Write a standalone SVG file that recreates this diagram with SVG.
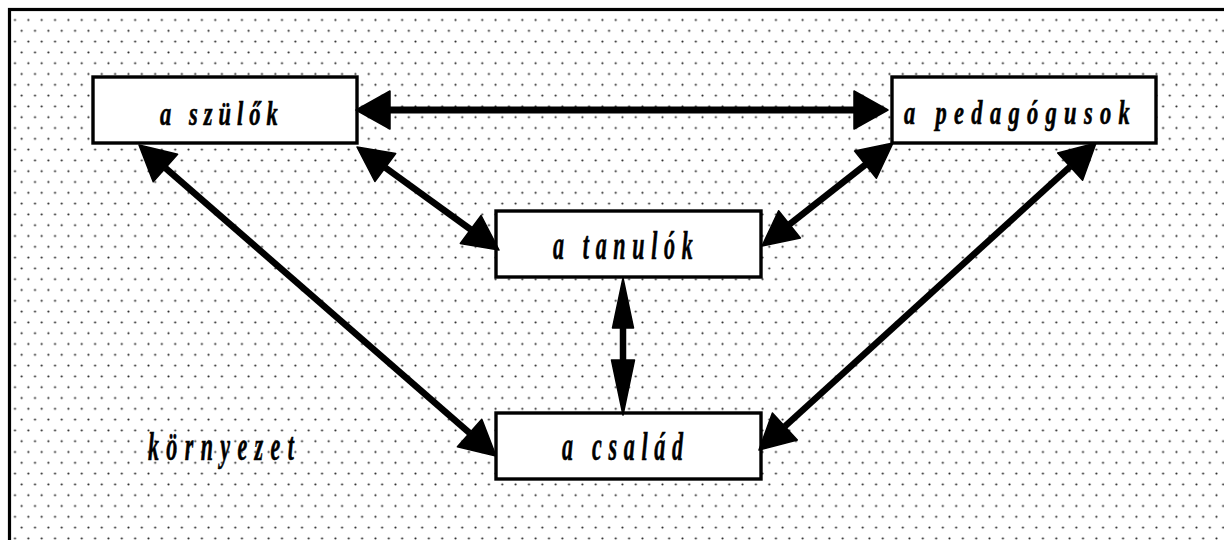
<svg xmlns="http://www.w3.org/2000/svg" width="1224" height="540" viewBox="0 0 1224 540">
  <defs>
    <pattern id="dots" patternUnits="userSpaceOnUse" x="11.66" y="14.6" width="13.35" height="21.6">
      <circle cx="3.34" cy="5.4" r="1.05" fill="#222222"/>
      <circle cx="10.01" cy="16.2" r="1.05" fill="#222222"/>
    </pattern>
    <style>
      .box { fill: #ffffff; stroke: #000000; stroke-width: 3.4; }
      .lbl { font-family: "Liberation Serif", "Times New Roman", serif; font-weight: bold; font-style: italic; fill: #000000; stroke: #000000; stroke-width: 0.6; }
      .big { font-size: 40px; }
      .small { font-size: 33px; }
      .line { stroke: #000000; stroke-width: 6.5; fill: none; }
      .head { fill: #000000; stroke: #000000; stroke-width: 1.5; stroke-linejoin: round; }
    </style>
  </defs>
  <rect x="0" y="0" width="1224" height="540" fill="#ffffff"/>
  <rect id="frame" x="9.5" y="9.5" width="1230" height="540" fill="url(#dots)" stroke="#000000" stroke-width="3.2"/>

  <g id="node-szulok">
    <rect class="box" x="93" y="77" width="264" height="66"/>
    <text class="lbl small" x="0" y="0" transform="translate(160,125) scale(0.68,1)" textLength="173" lengthAdjust="spacing">a szülők</text>
  </g>
  <g id="node-pedagogusok">
    <rect class="box" x="892" y="77" width="264" height="66"/>
    <text class="lbl small" x="0" y="0" transform="translate(904,123.5) scale(0.68,1)" textLength="332" lengthAdjust="spacing">a pedagógusok</text>
  </g>
  <g id="node-tanulok">
    <rect class="box" x="496" y="211" width="265" height="66"/>
    <text class="lbl big" x="0" y="0" transform="translate(553,259) scale(0.55,1)" textLength="254" lengthAdjust="spacing">a tanulók</text>
  </g>
  <g id="node-csalad">
    <rect class="box" x="496" y="413" width="265" height="66"/>
    <text class="lbl big" x="0" y="0" transform="translate(562,460) scale(0.55,1)" textLength="220" lengthAdjust="spacing">a család</text>
  </g>
  <g id="label-kornyezet">
    <text class="lbl big" x="0" y="0" transform="translate(148,460) scale(0.55,1)" textLength="265" lengthAdjust="spacing">környezet</text>
  </g>

  <g id="connectors">
    <!-- szülők <-> pedagógusok -->
    <line class="line" x1="385" y1="110" x2="858" y2="110" style="stroke-width:7"/>
    <polygon class="head" points="356,110 390,91 390,129"/>
    <polygon class="head" points="888,110 854,91 854,129"/>
    <!-- szülők <-> tanulók -->
    <line class="line" x1="385.3" y1="167.6" x2="470.7" y2="229.5"/>
    <polygon class="head" points="357,147 374.9,181.5 395.7,153.6"/>
    <polygon class="head" points="499,250 460.3,243.4 481.1,215.5"/>
    <!-- pedagógusok <-> tanulók -->
    <line class="line" x1="865.5" y1="164.6" x2="789.5" y2="224.4"/>
    <polygon class="head" points="893,143 854.6,151 876.4,178.2"/>
    <polygon class="head" points="762,246 778.6,210.8 800.4,238"/>
    <!-- tanulók <-> család -->
    <line class="line" x1="623" y1="320" x2="623" y2="368"/>
    <polygon class="head" points="623,278 612.5,328 633.5,328"/>
    <polygon class="head" points="623,415 611.5,360 634.5,360"/>
    <!-- szülők <-> család -->
    <line class="line" x1="165.4" y1="168" x2="469.6" y2="433"/>
    <polygon class="head" points="139,145 153.2,181.8 177.6,154.2"/>
    <polygon class="head" points="496,456 457.4,446.8 481.8,419.2"/>
    <!-- pedagógusok <-> család -->
    <line class="line" x1="1070.1" y1="166.6" x2="784.9" y2="426.4"/>
    <polygon class="head" points="1096,143 1057.7,153 1082.6,180.2"/>
    <polygon class="head" points="759,450 772.4,412.9 797.3,440"/>
  </g>
</svg>
